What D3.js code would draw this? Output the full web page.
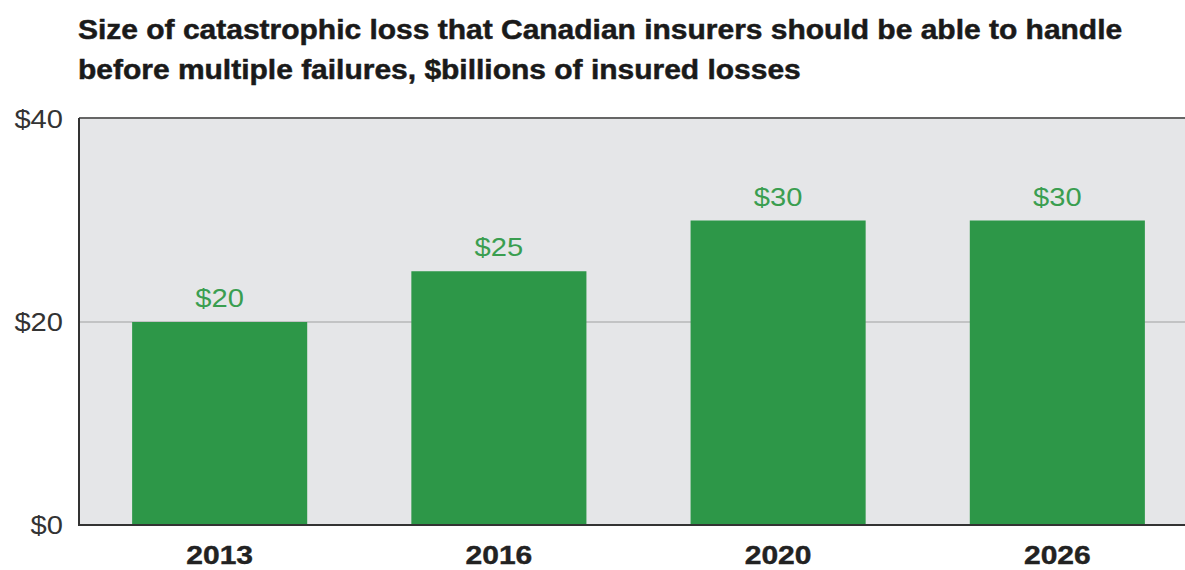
<!DOCTYPE html>
<html><head><meta charset="utf-8">
<script src="https://cdn.jsdelivr.net/npm/d3@7"></script>
<style>body{margin:0;background:#fff;} svg{display:block;}</style>
</head><body>
<script>
const categories = ["2013", "2016", "2020", "2026"];
const values = [20, 25, 30, 30];
const yTicks = [0, 20, 40];
const titleLines = ["Size of catastrophic loss that Canadian insurers should be able to handle",
                    "before multiple failures, $billions of insured losses"];

const W = 1185, H = 570;
const svg = d3.select("body").append("svg").attr("width", W).attr("height", H);
const pL = 79, pR = 1185, pT = 118, pB = 525;
const FONT = "Liberation Sans, Arial, sans-serif";

function stretch(sel, f) {
  sel.each(function () {
    const w = this.getComputedTextLength();
    d3.select(this).attr("textLength", w * f).attr("lengthAdjust", "spacingAndGlyphs");
  });
}

const x = d3.scaleBand().domain(categories).range([80, 1197]).paddingInner(0.373).paddingOuter(0.1867);
const y = d3.scaleLinear().domain([0, 40]).range([pB, 119]);

svg.append("rect").attr("x", pL).attr("y", pT).attr("width", pR - pL).attr("height", pB - pT).attr("fill", "#e5e6e8");

// gridlines
svg.append("g").selectAll("line").data(yTicks.filter(d => d > 0 && d < 40)).join("line")
  .attr("x1", pL).attr("x2", pR).attr("y1", d => y(d)).attr("y2", d => y(d))
  .attr("stroke", "#a0a0a0").attr("stroke-width", 1.2);

// top line
svg.append("line").attr("x1", pL).attr("x2", pR).attr("y1", pT).attr("y2", pT).attr("stroke", "#666").attr("stroke-width", 2);

// bars
svg.append("g").selectAll("rect").data(values).join("rect")
  .attr("x", (d, i) => x(categories[i])).attr("width", x.bandwidth())
  .attr("y", d => y(d)).attr("height", d => y(0) - y(d)).attr("fill", "#2d9748");

// value labels
const vl = svg.append("g").selectAll("text").data(values).join("text")
  .attr("x", (d, i) => x(categories[i]) + x.bandwidth() / 2).attr("y", d => y(d) - 15)
  .attr("text-anchor", "middle").attr("fill", "#3a9e50")
  .style("font-family", FONT).style("font-size", "26px")
  .text(d => "$" + d);
stretch(vl, 1.12);

// y axis
const yAxis = d3.axisLeft(y).tickValues(yTicks).tickFormat(d => "$" + d).tickSize(0).tickPadding(16);
const gy = svg.append("g").attr("transform", `translate(${pL},0)`).call(yAxis);
gy.select(".domain").attr("stroke", "#333").attr("stroke-width", 2).attr("d", `M0,${pT}V${pB}`);
gy.selectAll("text").attr("fill", "#333").style("font-family", FONT).style("font-size", "26px");
stretch(gy.selectAll("text"), 1.12);

// x axis
const xAxis = d3.axisBottom(x).tickSize(0).tickPadding(21);
const gx = svg.append("g").attr("transform", `translate(0,${pB})`).call(xAxis);
gx.select(".domain").remove();
gx.append("line").attr("x1", pL - 1).attr("x2", pR).attr("y1", 0).attr("y2", 0).attr("stroke", "#333").attr("stroke-width", 2);
gx.selectAll("text").attr("fill", "#222").style("font-family", FONT).style("font-size", "25px").style("font-weight", "bold")
  .attr("stroke", "#222").attr("stroke-width", 0.4);
stretch(gx.selectAll("text"), 1.2);

// title
const tt = svg.append("g").selectAll("text").data(titleLines).join("text")
  .attr("x", 78).attr("y", (d, i) => 39 + i * 40)
  .attr("fill", "#1a1a1a").attr("stroke", "#1a1a1a").attr("stroke-width", 0.5)
  .style("font-family", FONT).style("font-size", "27px").style("font-weight", "bold")
  .text(d => d);
stretch(tt, 1.11);
</script>
</body></html>
